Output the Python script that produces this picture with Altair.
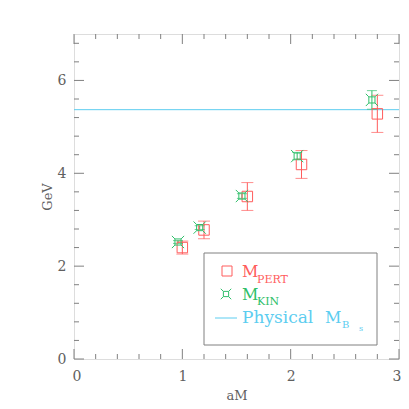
import altair as alt
import pandas as pd

# data
aM_pert = [1.00, 1.20, 1.60, 2.10, 2.80]
m_pert = [2.40, 2.78, 3.50, 4.19, 5.28]
err_pert = [0.14, 0.19, 0.30, 0.30, 0.40]

aM_kin = [0.96, 1.16, 1.55, 2.06, 2.75]
m_kin = [2.52, 2.83, 3.51, 4.37, 5.58]
err_kin = [0.03, 0.04, 0.05, 0.08, 0.20]

physical_mbs = 5.37

x_major = [0, 1, 2, 3]
x_minor = [0.2, 0.4, 0.6, 0.8, 1.2, 1.4, 1.6, 1.8, 2.2, 2.4, 2.6, 2.8]
y_major = [0, 2, 4, 6]
y_minor = [0.4, 0.8, 1.2, 1.6, 2.4, 2.8, 3.2, 3.6, 4.4, 4.8, 5.2, 5.6, 6.4, 6.8]

RED = "#ff5c5c"
GREEN = "#2fbf6a"
BLUE = "#5ccdf0"
GREY = "#808080"
TXT = "#606060"
FONT = "DejaVu Serif"

W, H = 325, 325

pert = pd.DataFrame({"x": aM_pert, "y": m_pert,
                     "lo": [a - b for a, b in zip(m_pert, err_pert)],
                     "hi": [a + b for a, b in zip(m_pert, err_pert)]})
kin = pd.DataFrame({"x": aM_kin, "y": m_kin,
                    "lo": [a - b for a, b in zip(m_kin, err_kin)],
                    "hi": [a + b for a, b in zip(m_kin, err_kin)]})

xs = alt.Scale(domain=[0, 3], nice=False, zero=False)
ys = alt.Scale(domain=[0, 7], nice=False, zero=False)

AX = alt.Axis(
    values=x_major, tickSize=0, domain=False, grid=False, title="aM",
    labelFont=FONT, labelFontSize=14, labelColor=TXT, labelPadding=10,
    labelFlush=True, labelFlushOffset=2,
    titleFont=FONT, titleFontSize=13, titleFontWeight="normal", titleColor=TXT,
    titleBaseline="alphabetic", titleY=40, format="d")
AY = alt.Axis(
    values=y_major, tickSize=0, domain=False, grid=False, title="GeV",
    labelFont=FONT, labelFontSize=14, labelColor=TXT, labelPadding=8, labelFlush=False,
    titleFont=FONT, titleFontSize=13, titleFontWeight="normal", titleColor=TXT,
    titlePadding=3, format="d")


def XE(f):
    return alt.X(f, scale=xs, axis=AX)


def YE(f):
    return alt.Y(f, scale=ys, axis=AY)


layers = []

# horizontal physical line
layers.append(alt.Chart(pd.DataFrame({"y": [physical_mbs]})).mark_rule(
    color=BLUE, strokeWidth=1).encode(y=YE("y:Q"), x=alt.value(0), x2=alt.value(W)))


# ticks on frame
def tick_layers(vals, axis, length):
    df = pd.DataFrame({"v": vals})
    out = []
    if axis == "x":
        enc = XE("v:Q")
        out.append(alt.Chart(df).mark_rule(color=GREY).encode(
            x=enc, y=alt.value(H), y2=alt.value(H - length)))
        out.append(alt.Chart(df).mark_rule(color=GREY).encode(
            x=enc, y=alt.value(0), y2=alt.value(length)))
    else:
        enc = YE("v:Q")
        out.append(alt.Chart(df).mark_rule(color=GREY).encode(
            y=enc, x=alt.value(0), x2=alt.value(length)))
        out.append(alt.Chart(df).mark_rule(color=GREY).encode(
            y=enc, x=alt.value(W), x2=alt.value(W - length)))
    return out


layers += tick_layers(x_major, "x", 10)
layers += tick_layers(x_minor, "x", 5)
layers += tick_layers(y_major, "y", 10)
layers += tick_layers(y_minor, "y", 5)

# error bars
for df, col, cap in [(pert, RED, 12), (kin, GREEN, 10)]:
    layers.append(alt.Chart(df).mark_rule(color=col, strokeWidth=1).encode(
        x=XE("x:Q"), y=YE("lo:Q"), y2="hi:Q"))
    layers.append(alt.Chart(df).mark_tick(color=col, thickness=1, size=cap, orient="horizontal").encode(
        x=XE("x:Q"), y=YE("lo:Q")))
    layers.append(alt.Chart(df).mark_tick(color=col, thickness=1, size=cap, orient="horizontal").encode(
        x=XE("x:Q"), y=YE("hi:Q")))

KIN_SHAPE = ("M-0.5,-0.5L0.5,-0.5L0.5,0.5L-0.5,0.5Z"
             "M-0.5,-0.5L-1,-1M0.5,-0.5L1,-1M0.5,0.5L1,1M-0.5,0.5L-1,1")

layers.append(alt.Chart(pert).mark_point(shape="square", size=110, color=RED,
                                         strokeWidth=1, filled=False, opacity=1).encode(x=XE("x:Q"), y=YE("y:Q")))
layers.append(alt.Chart(kin).mark_point(shape=KIN_SHAPE, size=150, color=GREEN,
                                        strokeWidth=1, filled=False, opacity=1).encode(x=XE("x:Q"), y=YE("y:Q")))

# legend (pixel positions within plot area)
one = pd.DataFrame({"a": [0]})
layers.append(alt.Chart(one).mark_rect(fill="white", stroke=GREY, strokeWidth=1).encode(
    x=alt.value(130), x2=alt.value(303), y=alt.value(219), y2=alt.value(311)))
layers.append(alt.Chart(one).mark_point(shape="square", size=100, color=RED, filled=False,
                                        strokeWidth=1, opacity=1).encode(x=alt.value(153), y=alt.value(237)))
layers.append(alt.Chart(one).mark_point(shape=KIN_SHAPE, size=110, color=GREEN, filled=False,
                                        strokeWidth=1, opacity=1).encode(x=alt.value(152), y=alt.value(260)))
layers.append(alt.Chart(one).mark_rule(color=BLUE, strokeWidth=1).encode(
    x=alt.value(141), x2=alt.value(163), y=alt.value(284)))


def txt(s, x, y, col, size):
    return alt.Chart(one).mark_text(text=s, align="left", baseline="alphabetic", font=FONT,
                                    fontSize=size, color=col).encode(x=alt.value(x), y=alt.value(y))


layers.append(txt("M", 168, 243, RED, 16))
layers.append(txt("PERT", 183, 249, RED, 11))
layers.append(txt("M", 168, 266, GREEN, 16))
layers.append(txt("KIN", 183, 271, GREEN, 11))
layers.append(txt("Physical", 168, 289, BLUE, 17))
layers.append(txt("M", 251, 289, BLUE, 16))
layers.append(txt("B", 268, 294, BLUE, 10))
layers.append(txt("s", 285, 297, BLUE, 8))

chart = alt.layer(*layers).properties(
    width=W, height=H,
    autosize=alt.AutoSizeParams(type="none"),
    padding={"left": 66, "top": 26, "right": 2, "bottom": 42},
).configure_view(stroke=GREY, strokeWidth=1).configure(background="white")

chart.save("out.html", embed_options={"renderer": "svg", "actions": False})
